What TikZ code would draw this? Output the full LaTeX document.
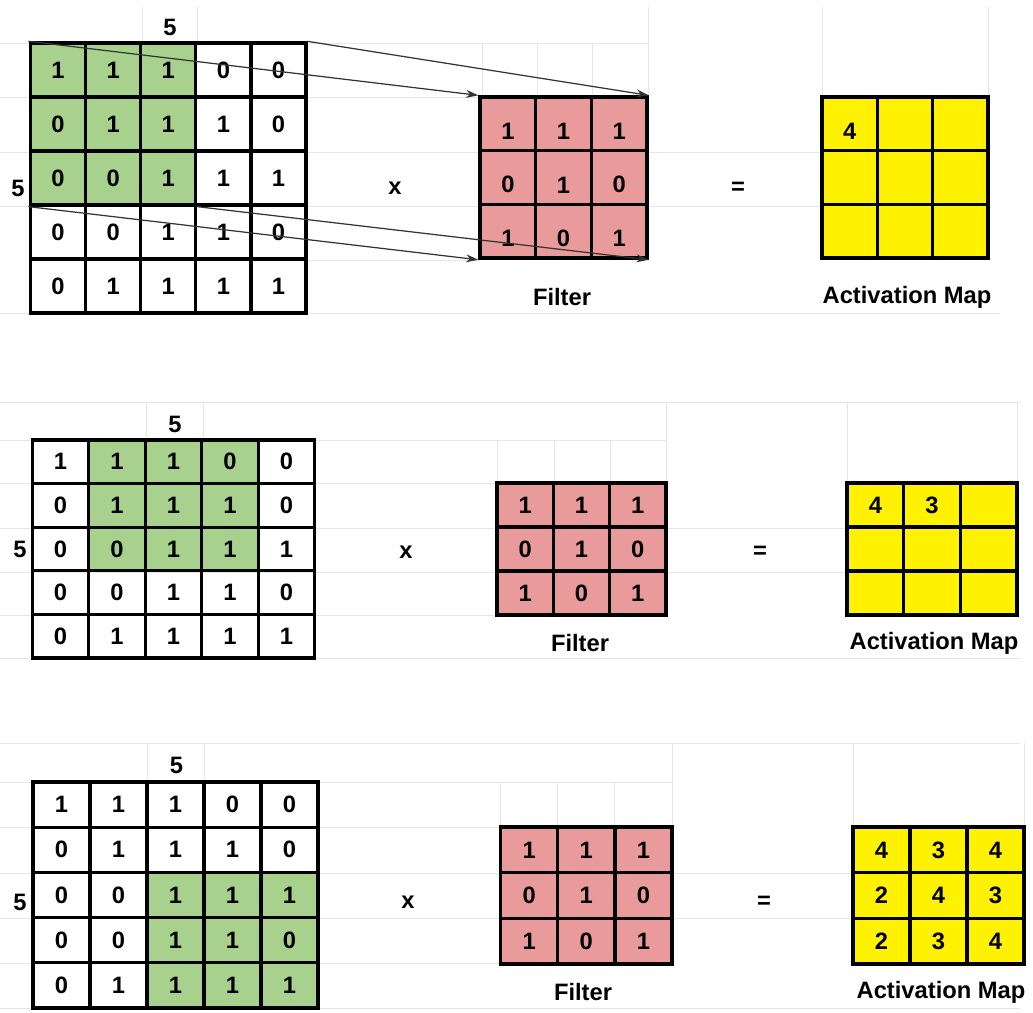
\documentclass[tikz,border=0pt]{standalone}
\usepackage{fontspec}
\setsansfont{Liberation Sans}
\usepackage{tikz}
\usetikzlibrary{arrows.meta,backgrounds}
\definecolor{cellgreen}{HTML}{A9D18E}
\definecolor{cellpink}{HTML}{E99A9A}
\definecolor{sheetgray}{HTML}{E6E6E6}
\newcommand{\numgrid}[7]{\foreach \row [count=\r from 0] in {#7}{\foreach \v [count=\c from 0] in \row{\node[cell,minimum width=#4*0.02cm,minimum height=#5*0.02cm,#6] (#1-\r-\c) at ({#2+(\c+0.5)*#4},{#3+(\r+0.5)*#5}) {\v};}}}

\begin{document}
\begin{tikzpicture}[x=0.02cm,y=-0.02cm,line cap=round,
  cell/.style={draw=black,line width=1.9pt,inner sep=0pt,font=\sffamily\bfseries\fontsize{13.5}{15}\selectfont},
  lbl/.style={font=\sffamily\bfseries\fontsize{13.5}{15}\selectfont},
  sheet/.style={draw=sheetgray,line width=0.5pt},
  slide/.style={draw=black!80,line width=0.7pt,-{Stealth[length=7pt,width=4.5pt]}},
  lowtext/.style={text height=0.62cm}]
  \useasboundingbox (0,0) rectangle (1033,1012);
  % sheet lines behind the tables
  \foreach \y/\xa/\xb in {43/0/648,97/0/480,152/0/822,206/0/822,260/300/480,313/0/1000,
    402/0/1020,440/0/666,483/0/497,528/0/847,572/0/847,615/0/497,658/0/1020,
    743/0/1020,782/0/672,827/0/500,873/0/853,918/0/853,963/0/500,1008/0/1020}{\draw[sheet] (\xa,\y) -- (\xb,\y);}
  \foreach \x/\ya/\yb in {142/7/43,197/7/43,482/43/97,537/43/97,592/43/97,648/7/97,822/7/97,988/7/97,
    146/402/440,203/402/440,497/440/483,554/440/483,610/440/483,666/402/483,847/402/483,1017/402/483,
    147/743/782,204/743/782,500/782/827,557/782/827,614/782/827,672/743/827,853/743/827,1024/743/827}{\draw[sheet] (\x,\ya) -- (\x,\yb);}

  \numgrid{in1}{30.5}{43}{55.1}{54}{}{{1,1,1,0,0},{0,1,1,1,0},{0,0,1,1,1},{0,0,1,1,0},{0,1,1,1,1}}
  \numgrid{f1}{480}{97}{55.7}{53.7}{fill=cellpink,lowtext}{{1,1,1},{0,1,0},{1,0,1}}
  \numgrid{a1}{822}{97}{55.3}{53.7}{fill=yellow,lowtext}{{4,{},{}},{{},{},{}},{{},{},{}}}
  \node[lbl] (top1) at (170,27) {5};
  \node[lbl] (side1) at (18,188) {5};
  \node[lbl] (times1) at (395,188) {x};
  \node[lbl] (eq1) at (738,188) {=};
  \node[lbl] (flt1) at (562,297) {Filter};
  \node[lbl] (act1) at (907,297) {Activation Map};
  \draw[slide] (in1-0-0.north west) -- (f1-0-0.north west);
  \draw[slide] (in1-0-4.north east) -- (f1-0-2.north east);
  \draw[slide] (in1-2-0.south west) -- (f1-2-0.south west);
  \draw[slide] (in1-2-2.south east) -- (f1-2-2.south east);

  \numgrid{in2}{32.3}{440}{56.5}{43.6}{}{{1,1,1,0,0},{0,1,1,1,0},{0,0,1,1,1},{0,0,1,1,0},{0,1,1,1,1}}
  \numgrid{f2}{497}{483}{56.3}{44}{fill=cellpink}{{1,1,1},{0,1,0},{1,0,1}}
  \numgrid{a2}{847}{483}{56.7}{44}{fill=yellow}{{4,3,{}},{{},{},{}},{{},{},{}}}
  \node[lbl] (top2) at (175,424) {5};
  \node[lbl] (side2) at (20,549) {5};
  \node[lbl] (times2) at (406,552) {x};
  \node[lbl] (eq2) at (760,552) {=};
  \node[lbl] (flt2) at (580,643) {Filter};
  \node[lbl] (act2) at (934,643) {Activation Map};

  \numgrid{in3}{33}{782}{57}{45.2}{}{{1,1,1,0,0},{0,1,1,1,0},{0,0,1,1,1},{0,0,1,1,0},{0,1,1,1,1}}
  \numgrid{f3}{500.5}{827}{57.2}{45.7}{fill=cellpink}{{1,1,1},{0,1,0},{1,0,1}}
  \numgrid{a3}{853}{827}{57}{45.7}{fill=yellow}{{4,3,4},{2,4,3},{2,3,4}}
  \node[lbl] (top3) at (176.5,765) {5};
  \node[lbl] (side3) at (20,902) {5};
  \node[lbl] (times3) at (408,902) {x};
  \node[lbl] (eq3) at (764,902) {=};
  \node[lbl] (flt3) at (583,992) {Filter};
  \node[lbl] (act3) at (941,992) {Activation Map};

  \begin{scope}[on background layer]
    \fill[white] (0,0) rectangle (1033,1012);
    \fill[cellgreen] (in1-0-0.north west) rectangle (in1-2-2.south east);
    \fill[cellgreen] (in2-0-1.north west) rectangle (in2-2-3.south east);
    \fill[cellgreen] (in3-2-2.north west) rectangle (in3-4-4.south east);
  \end{scope}
\end{tikzpicture}
\end{document}
